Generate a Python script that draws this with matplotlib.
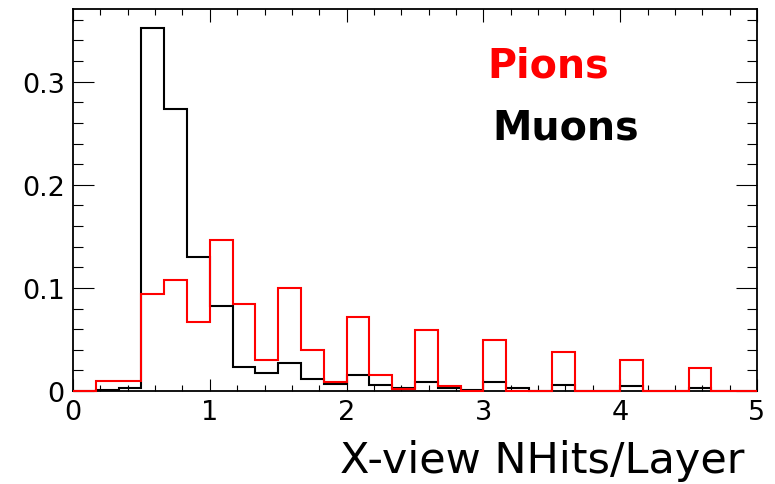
#!/usr/bin/env python3
"""X-view NHits/Layer for pions and muons, ROOT-style step histogram."""

import matplotlib

matplotlib.use("Agg")
import matplotlib.pyplot as plt
import numpy as np
from matplotlib.ticker import MultipleLocator

# bin edges: 30 bins of width 1/6 from 0 to 5
x_min, x_max, n_bins = 0.0, 5.0, 30

muons = [
    0.0, 0.0005, 0.003, 0.352, 0.274, 0.130, 0.082, 0.023, 0.017, 0.027,
    0.0115, 0.007, 0.016, 0.0055, 0.003, 0.009, 0.0026, 0.0006, 0.0084, 0.0026,
    0.0, 0.006, 0.0, 0.0, 0.0045, 0.0, 0.0, 0.0026, 0.0, 0.0,
]
pions = [
    0.0, 0.0098, 0.0098, 0.0936, 0.1075, 0.067, 0.146, 0.084, 0.030, 0.100,
    0.0395, 0.0087, 0.0716, 0.0158, 0.0023, 0.0587, 0.0045, 0.0, 0.049, 0.0,
    0.0, 0.038, 0.0, 0.0, 0.0303, 0.0, 0.0, 0.022, 0.0, 0.0,
]
x_ticks = [0, 1, 2, 3, 4, 5]
y_ticks = [0.0, 0.1, 0.2, 0.3]
y_tick_labels = ["0", "0.1", "0.2", "0.3"]

W, H = 775, 485


def fig_xy(px, py):
    return px / W, 1 - py / H


def main() -> None:
    plt.rcParams["font.family"] = ["DejaVu Sans"]
    fig = plt.figure(figsize=(W / 100, H / 100), dpi=100)
    ax = fig.add_axes([73 / W, 1 - 392 / H, (757 - 73) / W, (392 - 9.5) / H])

    edges = np.linspace(x_min, x_max, n_bins + 1)
    # drawn above the frame so the zero-height bins show along the axis, like ROOT
    ax.stairs(muons, edges, color="black", lw=1.5, baseline=0, zorder=3, clip_on=False)
    ax.stairs(pions, edges, color="#ff0000", lw=1.5, baseline=0, zorder=4, clip_on=False)

    ax.set_xlim(x_min, x_max)
    ax.set_ylim(0, 0.371)
    ax.set_xticks(x_ticks)
    ax.set_xticklabels([str(t) for t in x_ticks])
    ax.set_yticks(y_ticks)
    ax.set_yticklabels(y_tick_labels)
    ax.xaxis.set_minor_locator(MultipleLocator(0.2))
    ax.yaxis.set_minor_locator(MultipleLocator(0.02))

    ax.tick_params(axis="both", which="both", direction="in", top=True, right=True,
                   width=0.8, labelsize=19.5)
    ax.tick_params(axis="x", which="major", length=9, pad=6)
    ax.tick_params(axis="x", which="minor", length=4.5)
    ax.tick_params(axis="y", which="major", length=15, pad=6)
    ax.tick_params(axis="y", which="minor", length=7.5)
    for sp in ax.spines.values():
        sp.set_linewidth(1.3)

    fig.text(*fig_xy(745, 473), "X-view NHits/Layer", fontsize=31,
             ha="right", va="baseline")
    fig.text(*fig_xy(487, 77), "Pions", fontsize=28.5, fontweight="bold",
             color="#ff0000", ha="left", va="baseline")
    fig.text(*fig_xy(492, 139), "Muons", fontsize=28.5, fontweight="bold",
             color="black", ha="left", va="baseline")

    fig.savefig("out.png", dpi=100)
    plt.close(fig)


if __name__ == "__main__":
    main()
